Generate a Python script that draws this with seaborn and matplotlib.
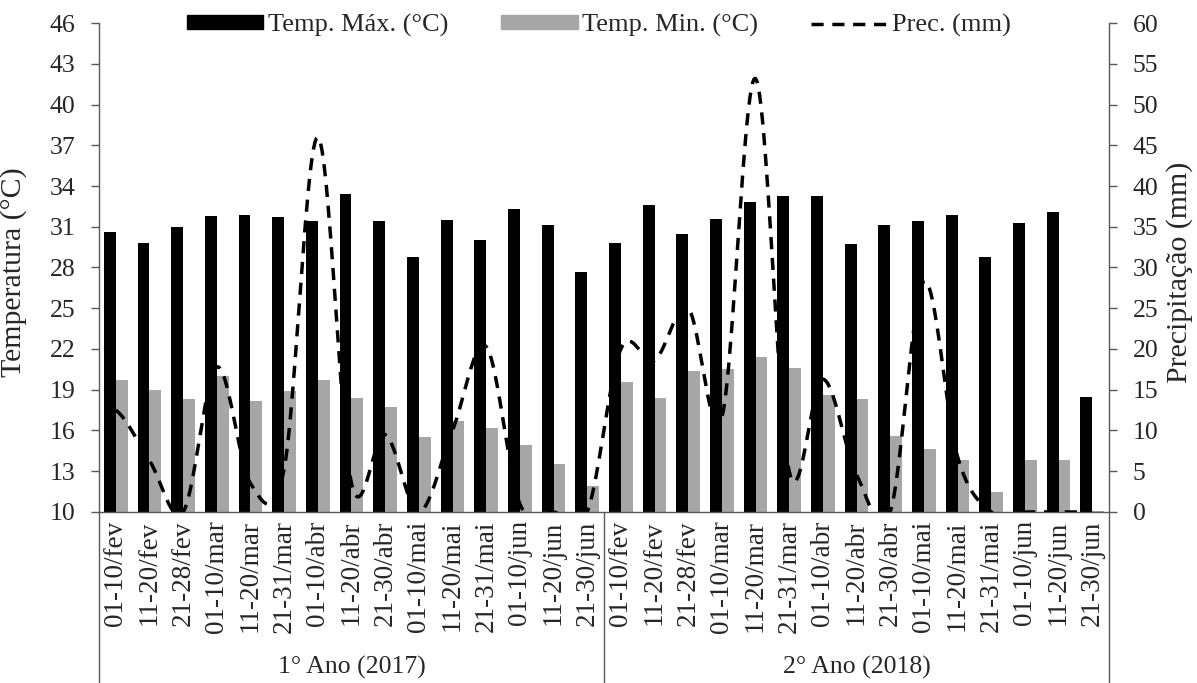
import numpy as np
import pandas as pd
import seaborn as sns
import matplotlib.pyplot as plt
import matplotlib.transforms as mtransforms
from matplotlib.patches import Patch
from matplotlib.lines import Line2D

# Dados (decêndios de fev a jun)
periodos = ['01-10/fev', '11-20/fev', '21-28/fev', '01-10/mar', '11-20/mar', '21-31/mar',
            '01-10/abr', '11-20/abr', '21-30/abr', '01-10/mai', '11-20/mai', '21-31/mai',
            '01-10/jun', '11-20/jun', '21-30/jun']
anos = ['1° Ano (2017)', '2° Ano (2018)']

tmax_2017 = [30.6, 29.8, 31.0, 31.8, 31.9, 31.7, 31.4, 33.4, 31.4, 28.8, 31.5, 30.0, 32.3, 31.1, 27.7]
tmax_2018 = [29.8, 32.6, 30.5, 31.6, 32.8, 33.3, 33.3, 29.7, 31.1, 31.4, 31.9, 28.8, 31.3, 32.1, 18.5]
tmin_2017 = [19.7, 19.0, 18.3, 20.0, 18.2, 18.9, 19.7, 18.4, 17.7, 15.5, 16.7, 16.2, 14.9, 13.5, 11.9]
tmin_2018 = [19.6, 18.4, 20.4, 20.5, 21.4, 20.6, 18.6, 18.3, 15.6, 14.6, 13.8, 11.5, 13.8, 13.8, 10.1]
prec_2017 = [12.5, 6.3, 0.0, 17.8, 3.5, 5.3, 46.0, 3.5, 9.5, 0.0, 10.0, 20.3, 1.0, 0.0, 0.0]
prec_2018 = [20.0, 18.6, 25.0, 11.6, 53.2, 5.0, 16.3, 4.6, 0.0, 28.3, 6.8, 0.0, 0.0, 0.0, 0.0]

cor_eixo = '#595959'
cinza = '#a6a6a6'

# tabela longa para o seaborn
linhas = []
for ano, tmax, tmin in [(anos[0], tmax_2017, tmin_2017), (anos[1], tmax_2018, tmin_2018)]:
    for p, vmax, vmin in zip(periodos, tmax, tmin):
        chave = ano + '|' + p
        linhas.append({'chave': chave, 'serie': 'Temp. Máx. (°C)', 'temp': vmax})
        linhas.append({'chave': chave, 'serie': 'Temp. Min. (°C)', 'temp': vmin})
df = pd.DataFrame(linhas)
prec = np.array(prec_2017 + prec_2018, dtype=float)


def suavizar(y, n=24):
    # curva suavizada (tipo Excel) passando pelos pontos
    p = np.concatenate([[y[0]], y, [y[-1]]])
    t = np.linspace(0, 1, n, endpoint=False)
    xs, ys = [], []
    for i in range(len(y) - 1):
        p0, p1, p2, p3 = p[i], p[i + 1], p[i + 2], p[i + 3]
        c1 = p1 + (p2 - p0) / 6
        c2 = p2 - (p3 - p1) / 6
        yy = (1 - t) ** 3 * p1 + 3 * (1 - t) ** 2 * t * c1 + 3 * (1 - t) * t ** 2 * c2 + t ** 3 * p2
        xs.append(i + t)
        ys.append(yy)
    xs.append([len(y) - 1])
    ys.append([y[-1]])
    return np.concatenate(xs), np.concatenate(ys)


sns.set_style('ticks')
plt.rcParams['font.family'] = ['Liberation Serif', 'DejaVu Serif']
plt.rcParams['font.size'] = 19

fig, ax = plt.subplots(figsize=(11.97, 6.83), dpi=100)
fig.subplots_adjust(left=0.0827, right=0.9265, bottom=0.2504, top=0.9663)

sns.barplot(data=df, x='chave', y='temp', hue='serie', palette=['black', cinza],
            width=0.71, saturation=1, errorbar=None, linewidth=0, legend=False, ax=ax)

ax.set_ylim(10, 46)
ax.set_yticks(range(10, 47, 3))
ax.set_xlim(-0.5, 29.5)
ax.set_xticks(range(30))
ax.set_xticklabels(periodos * 2, rotation=90)
ax.tick_params(axis='x', length=0, pad=6, labelsize=19.5)
ax.tick_params(axis='y', length=6, width=1, color=cor_eixo, pad=11, labelsize=18.5)
ax.set_xlabel('')
ax.set_ylabel('Temperatura (°C)', fontsize=21.5)
ax.yaxis.set_label_coords(-0.0713, 0.49)
for s in ['top', 'right']:
    ax.spines[s].set_visible(False)
for s in ['left', 'bottom']:
    ax.spines[s].set_color(cor_eixo)
    ax.spines[s].set_linewidth(1)

# linhas separadoras e rótulos dos anos
trans = mtransforms.blended_transform_factory(ax.transData, ax.transAxes)
for xv in [-0.5, 14.5, 29.5]:
    ax.plot([xv, xv], [0, -0.4], transform=trans, clip_on=False, color=cor_eixo, lw=1)
ax.text(7, -0.317, anos[0], transform=trans, ha='center', va='center', fontsize=18.5)
ax.text(22, -0.317, anos[1], transform=trans, ha='center', va='center', fontsize=18.5)
ax.set_xlim(-0.5, 29.5)

# precipitação no eixo secundário
ax2 = ax.twinx()
xs, ys = suavizar(prec)
ax2.plot(xs, ys, color='black', lw=2.5, ls=(0, (3.5, 2.5)))
ax2.set_ylim(0, 60)
ax2.set_yticks(range(0, 61, 5))
ax2.set_ylabel('Precipitação (mm)', fontsize=21.5)
ax2.yaxis.set_label_coords(1.056, 0.49)
ax2.tick_params(axis='y', length=6, width=1, color=cor_eixo, pad=11, labelsize=18.5)
for s in ['top', 'left', 'bottom']:
    ax2.spines[s].set_visible(False)
ax2.spines['right'].set_color(cor_eixo)
ax2.spines['right'].set_linewidth(1)
ax2.set_xlim(-0.5, 29.5)

handles = [Patch(color='black'), Patch(color=cinza),
           Line2D([], [], color='black', lw=2.5, ls=(0, (3.5, 2.5)))]
labels = ['Temp. Máx. (°C)', 'Temp. Min. (°C)', 'Prec. (mm)']
ax2.legend(handles, labels, loc='center', bbox_to_anchor=(0.495, 0.995), ncol=3, frameon=False,
           handlelength=2.9, handleheight=0.4, handletextpad=0.18, columnspacing=2.0,
           fontsize=19, borderaxespad=0)

fig.savefig('out.png', dpi=100)
